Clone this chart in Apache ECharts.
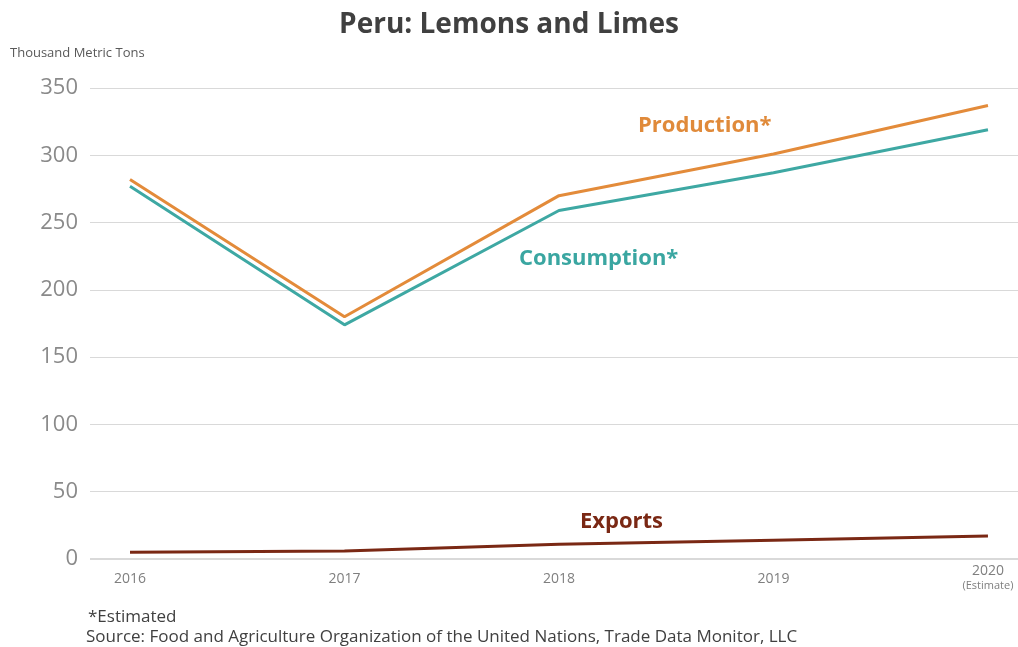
<!DOCTYPE html>
<html>
<head>
<meta charset="utf-8">
<script src="https://cdn.jsdelivr.net/npm/echarts@6/dist/echarts.min.js"></script>
<style>
  html, body { margin: 0; padding: 0; background: #fff; }
  #chart { width: 1018px; height: 647px; }
</style>
</head>
<body>
<div id="chart"></div>
<script>
// data
const years = [2016, 2017, 2018, 2019, 2020];
const production = [282, 180, 270, 301, 337];
const consumption = [277, 174, 259, 287, 319];
const exportsData = [5, 6, 11, 14, 17];

const font = '"Open Sans", "Noto Sans", sans-serif';
const pairs = vals => years.map((y, i) => [y, vals[i]]);

const txt = (left, top, text, fill, size, weight) => ({
  type: 'text', left, top,
  style: { text, fill, fontSize: size, fontWeight: weight || 'normal', fontFamily: font }
});

const chart = echarts.init(document.getElementById('chart'));
chart.setOption({
  animation: false,
  textStyle: { fontFamily: font },
  title: {
    text: 'Peru: Lemons and Limes',
    left: 'center',
    top: 6,
    textStyle: { fontSize: 28, fontWeight: 'bold', color: '#404040', fontFamily: font }
  },
  grid: { left: 90, right: 0, top: 88, bottom: 88 },
  xAxis: {
    type: 'value',
    min: 2015.8135,
    max: 2020.14,
    axisLine: { show: false },
    axisTick: { show: false },
    splitLine: { show: false },
    axisLabel: {
      customValues: years,
      margin: 4,
      color: '#7f7f7f',
      fontSize: 14,
      formatter: v => v === 2020 ? '{a|2020}\n{b|(Estimate)}' : '{c|' + v + '}',
      rich: {
        a: { fontSize: 14, color: '#7f7f7f', lineHeight: 16 },
        b: { fontSize: 11, color: '#7f7f7f', lineHeight: 14 },
        c: { fontSize: 14, color: '#7f7f7f', lineHeight: 16, padding: [16, 0, 0, 0] }
      }
    }
  },
  yAxis: {
    type: 'value',
    min: 0,
    max: 350,
    interval: 50,
    axisLine: { show: false },
    axisTick: { show: false },
    axisLabel: { color: '#8a8a8a', fontSize: 22, margin: 12 },
    splitLine: { lineStyle: { color: '#d9d9d9', width: 1 } }
  },
  graphic: [
    { type: 'line', shape: { x1: 90, y1: 559, x2: 1018, y2: 559 }, style: { stroke: '#d9d9d9', lineWidth: 2 }, z: 1 },
    txt(10, 47, 'Thousand Metric Tons', '#595959', 13),
    txt(88, 609, '*Estimated', '#404040', 17),
    txt(86, 629, 'Source: Food and Agriculture Organization of the United Nations, Trade Data Monitor, LLC', '#404040', 17),
    txt(638, 115, 'Production*', '#e08a3a', 22, 'bold'),
    txt(519, 248, 'Consumption*', '#3aa6a1', 22, 'bold'),
    txt(580, 511, 'Exports', '#7a2814', 22, 'bold')
  ],
  series: [
    { name: 'Production', type: 'line', data: pairs(production), symbol: 'none', lineStyle: { color: '#e38b3a', width: 3 }, z: 3 },
    { name: 'Consumption', type: 'line', data: pairs(consumption), symbol: 'none', lineStyle: { color: '#3ea8a3', width: 3 }, z: 3 },
    { name: 'Exports', type: 'line', data: pairs(exportsData), symbol: 'none', lineStyle: { color: '#7a2814', width: 3 }, z: 3 }
  ]
});
</script>
</body>
</html>
